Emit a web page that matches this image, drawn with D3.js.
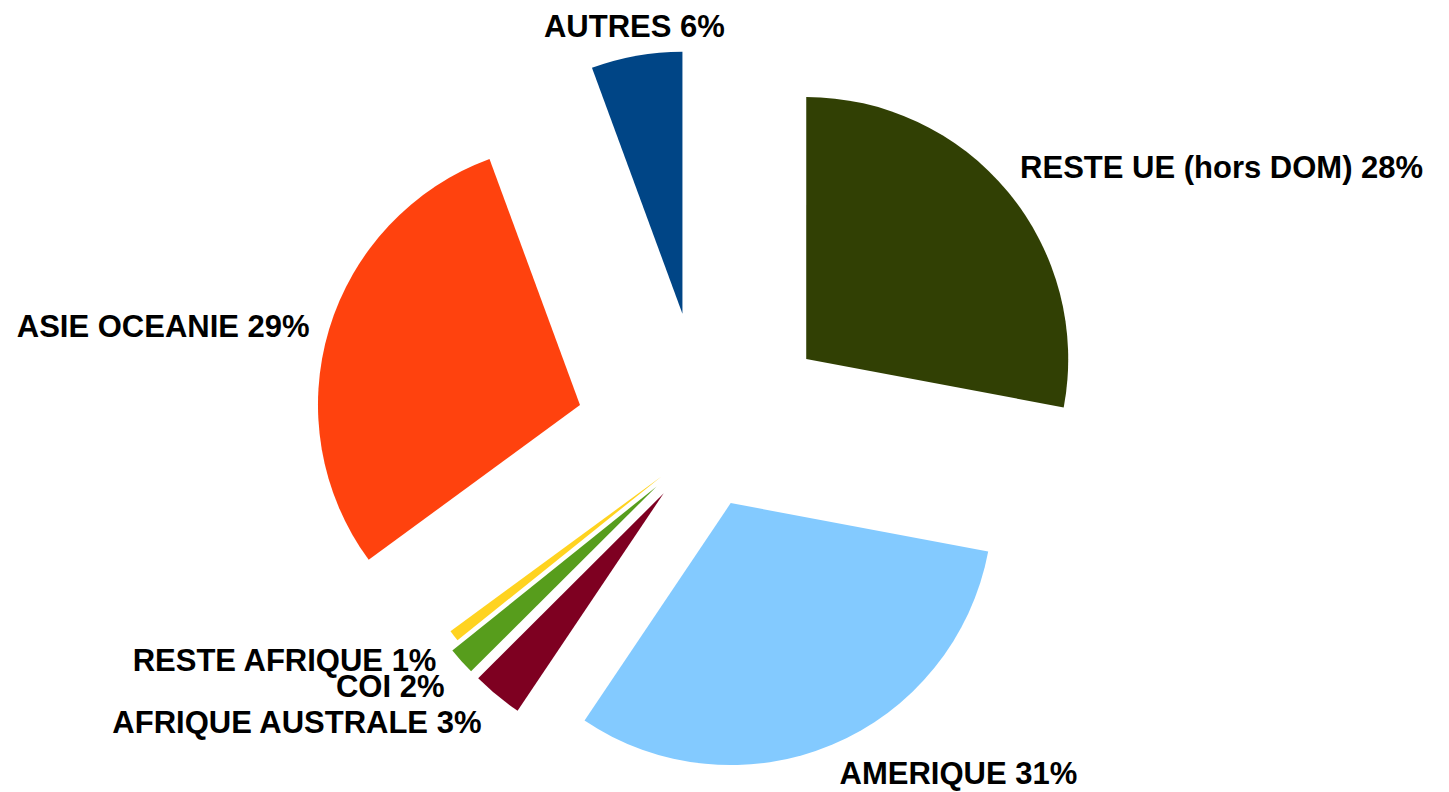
<!DOCTYPE html>
<html>
<head>
<meta charset="utf-8">
<script src="https://cdn.jsdelivr.net/npm/d3@7"></script>
<style>
  html, body { margin: 0; padding: 0; background: #fff; }
  svg { display: block; }
</style>
</head>
<body>
<div id="chart"></div>
<script>
// regions, in drawing order (clockwise from 12 o'clock)
const regions = ['RESTE UE (hors DOM)', 'AMERIQUE', 'AFRIQUE AUSTRALE', 'COI', 'RESTE AFRIQUE', 'ASIE OCEANIE', 'AUTRES'];
// share of each region (%)
const shares = [27.9, 31.4, 3.1, 1.7, 0.7, 29.4, 5.6];
const colors = ['#314004', '#83caff', '#7e0021', '#579d1c', '#ffd320', '#ff420e', '#004586'];
// how far each slice is pulled out, as a fraction of the radius
const explode = [0.5, 0.25, 0.25, 0.25, 0.21, 0.5, 0.5];

function windowSize() {
  let w = window,
    e = document.documentElement;
  return [w.innerWidth || e.clientWidth, w.innerHeight || e.clientHeight];
}

function drawPie(parent) {
  let [width, height] = windowSize(),
    cx = 705.4,
    cy = 442.7,
    radius = 262,
    fontSize = 31,
    total = d3.sum(shares);

  let data = regions.map((name, i) => ({ name: name, value: shares[i], color: colors[i], explode: explode[i] }));

  let pie = d3.pie()
    .sort(null)
    .value(d => d.value);

  let arc = d3.arc()
    .innerRadius(0)
    .outerRadius(radius);

  let svg = d3.select(parent)
    .append('svg')
    .attr('width', width)
    .attr('height', height);

  let g = svg.append('g')
    .attr('transform', `translate(${cx},${cy})`);

  let slices = pie(data);

  // unit vector pointing at the middle of a slice
  function midDir(d) {
    let a = (d.startAngle + d.endAngle) / 2;
    return [Math.sin(a), -Math.cos(a)];
  }

  g.selectAll('path.slice')
    .data(slices)
    .enter()
    .append('path')
    .classed('slice', true)
    .attr('transform', d => {
      let [dx, dy] = midDir(d),
        off = d.data.explode * radius;
      return `translate(${dx * off},${dy * off})`;
    })
    .attr('d', arc)
    .attr('fill', d => d.data.color);

  // labels sit just outside the arc, aligned by which way the slice points
  g.selectAll('text.label')
    .data(slices)
    .enter()
    .append('text')
    .classed('label', true)
    .each(function (d) {
      let [dx, dy] = midDir(d),
        r = d.data.explode * radius + radius + 12,
        x = dx * r,
        y = dy * r,
        anchor = 'middle';

      if (dx > 0.3) {
        anchor = 'start';
        x += 3;
      } else if (dx < -0.3) {
        anchor = 'end';
        x -= 8;
      }
      if (dy < -0.35) {
        y -= 0.212 * fontSize;
      } else if (dy > 0.35) {
        y += 0.905 * fontSize;
      } else {
        y += (0.905 - 0.212) / 2 * fontSize;
      }

      d3.select(this)
        .attr('x', x)
        .attr('y', y)
        .attr('text-anchor', anchor);
    })
    .style('font-family', '"Liberation Sans", Arial, sans-serif')
    .style('font-weight', 'bold')
    .style('font-size', fontSize + 'px')
    .attr('fill', '#000')
    .text(d => d.data.name + ' ' + Math.round(d.data.value / total * 100) + '%');
}

drawPie('#chart');
</script>
</body>
</html>
